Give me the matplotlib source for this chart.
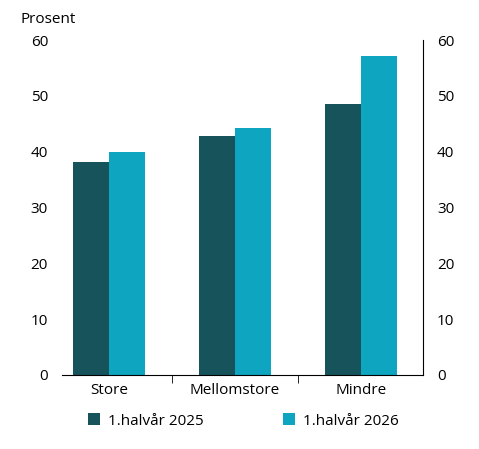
import matplotlib
matplotlib.use("Agg")
import matplotlib.pyplot as plt
import numpy as np

plt.rcParams["font.family"] = ["Open Sans", "DejaVu Sans"]
plt.rcParams["font.size"] = 11

categories = ["Store", "Mellomstore", "Mindre"]
series_2025 = [38.2, 42.8, 48.6]
series_2026 = [40.0, 44.2, 57.1]
labels = ["1.halvår 2025", "1.halvår 2026"]
colors = ["#17535b", "#0ea5c0"]

fig = plt.figure(figsize=(4.79, 4.49), dpi=100)
ax = fig.add_axes([62 / 479, 74 / 449, 361 / 479, 335 / 449])

x = np.arange(len(categories))
w = 0.285
ax.bar(x - w / 2, series_2025, width=w, color=colors[0], label=labels[0])
ax.bar(x + w / 2, series_2026, width=w, color=colors[1], label=labels[1])

ax.set_xlim(-0.373, 2.492)
ax.set_ylim(0, 60)
ax.set_yticks(range(0, 61, 10))
ax.set_xticks(x)
ax.set_xticklabels(categories)
ax.tick_params(axis="x", length=0, pad=6)
ax.set_xticks([0.5, 1.5], minor=True)
ax.tick_params(axis="x", which="minor", length=6)
ax.spines["top"].set_visible(False)
ax.spines["left"].set_visible(False)
ax.tick_params(axis="y", length=0, labelright=True, right=False, pad=10)
ax.text(-0.115, 1.04, "Prosent", transform=ax.transAxes, ha="left", va="bottom")

fig.legend(loc="lower left", bbox_to_anchor=(0.155, 0.015), ncol=2, frameon=False,
           handlelength=0.8, handleheight=0.8, columnspacing=5.2, handletextpad=0.5)

fig.savefig("out.png", dpi=100)
